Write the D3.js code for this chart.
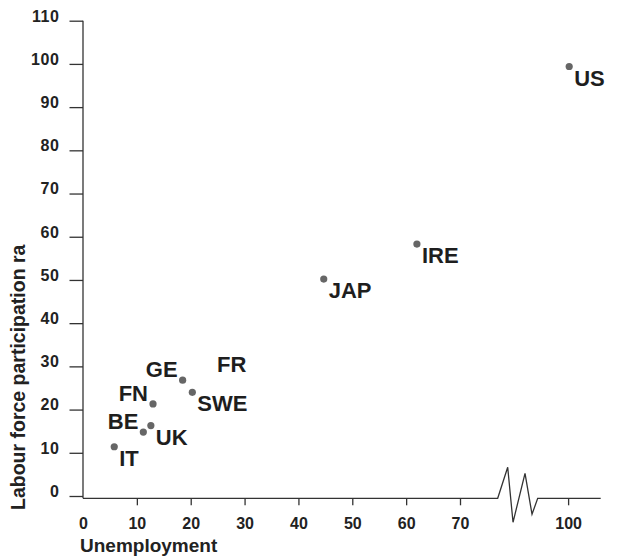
<!doctype html>
<html lang="en">

<head>
    <meta charset="UTF-8" />
    <script src="https://d3js.org/d3.v7.min.js"></script>
    <title>Unemployment vs labour force participation</title>
    <style>
        body { margin: 0; background: #fff; }
        text { font-family: "Liberation Sans", Arial, sans-serif; }
    </style>
</head>

<body>
    <div id="chart"></div>
    <script>
        // Data
        const countries = ["US", "IRE", "JAP", "GE", "SWE", "FN", "UK", "BE", "IT"]
        const unemployment = [100.2, 62.0, 44.7, 18.5, 20.3, 13.0, 12.6, 11.2, 5.8]
        const participation = [99.4, 58.3, 50.2, 26.8, 24.0, 21.3, 16.3, 14.8, 11.4]
        // label side for each point: "r" = below right, "l" = above left
        const labelSide = ["r", "r", "r", "l", "r", "l", "r", "l", "r"]

        // FR is labelled but has no marker
        const extraLabel = { name: "FR", x: 24.9, y: 28.7 }

        const xTicks = [0, 10, 20, 30, 40, 50, 60, 70, 100]
        const yTicks = [0, 10, 20, 30, 40, 50, 60, 70, 80, 90, 100, 110]
        const breakFrom = 77
        const breakTo = 94.4

        const W = 618, H = 558

        // x scale with a broken section between 77 and 94.4
        const x = d3.scaleLinear()
            .domain([0, breakFrom, breakTo, 106])
            .range([83, 497.7, 537.7, 600.7])
        const y = d3.scaleLinear().domain([0, 110]).range([496, 20.7])
        const xAxisY = y(0) + 2.3

        const svg = d3.select("#chart").append("svg")
            .attr("width", W)
            .attr("height", H)

        const ink = "#333"

        // y axis
        const yAxis = svg.append("g")
            .attr("transform", "translate(83,0)")
            .call(d3.axisLeft(y).tickValues(yTicks).tickSize(13.5).tickPadding(10))
        yAxis.select(".domain").remove()
        yAxis.selectAll(".tick line").attr("stroke", ink).attr("stroke-width", 1.3)
        yAxis.selectAll(".tick text")
            .attr("dy", "0.02em")
            .attr("fill", "#222")
            .attr("font-size", "16px")
            .attr("font-weight", "bold")
            .attr("letter-spacing", "0.6px")
        svg.append("line")
            .attr("x1", 83).attr("x2", 83)
            .attr("y1", y(110)).attr("y2", xAxisY)
            .attr("stroke", ink).attr("stroke-width", 1.3)

        // x axis with zigzag break
        const xa = x(breakFrom), xb = x(breakTo)
        const zig = [[0, 0], [0.25, -31], [0.383, 24], [0.683, -25], [0.858, 16], [1, 0]]
        const axisPts = [[x(0), xAxisY]]
            .concat(zig.map(([f, dy]) => [xa + f * (xb - xa), xAxisY + dy]))
            .concat([[x(106), xAxisY]])
        svg.append("path")
            .attr("d", d3.line()(axisPts))
            .attr("fill", "none")
            .attr("stroke", ink)
            .attr("stroke-width", 1.3)
            .attr("stroke-linejoin", "miter")

        const xAxis = svg.append("g")
            .attr("transform", `translate(0,${xAxisY})`)
            .call(d3.axisBottom(x).tickValues(xTicks).tickSize(7).tickPadding(12))
        xAxis.select(".domain").remove()
        xAxis.selectAll(".tick line")
            .attr("stroke", ink).attr("stroke-width", 1.3)
            .attr("opacity", d => d === 0 ? 0 : 1)
        xAxis.selectAll(".tick text")
            .attr("fill", "#222")
            .attr("font-family", "'Liberation Sans Narrow', 'Arial Narrow', sans-serif")
            .attr("font-size", "16px")
            .attr("font-weight", "bold")

        // axis titles
        svg.append("text")
            .attr("x", 80)
            .attr("y", 552)
            .attr("fill", "#222")
            .attr("font-size", "19px")
            .attr("font-weight", "bold")
            .text("Unemployment")

        svg.append("text")
            .attr("transform", "translate(25,510) rotate(-90)")
            .attr("fill", "#222")
            .attr("font-size", "19.5px")
            .attr("font-weight", "bold")
            .text("Labour force participation ra")

        // points
        const pts = countries.map((c, i) => ({
            name: c, x: unemployment[i], y: participation[i], side: labelSide[i]
        }))

        svg.selectAll("circle.pt")
            .data(pts)
            .enter()
            .append("circle")
            .attr("class", "pt")
            .attr("cx", d => x(d.x))
            .attr("cy", d => y(d.y))
            .attr("r", 3.6)
            .attr("fill", "#666")

        svg.selectAll("text.lbl")
            .data(pts)
            .enter()
            .append("text")
            .attr("class", "lbl")
            .attr("x", d => x(d.x) + (d.side === "r" ? 5 : -5))
            .attr("y", d => y(d.y) + (d.side === "r" ? 19 : -3))
            .attr("text-anchor", d => d.side === "r" ? "start" : "end")
            .attr("fill", "#1e1e1e")
            .attr("font-size", "22px")
            .attr("font-weight", "bold")
            .text(d => d.name)

        svg.append("text")
            .attr("x", x(extraLabel.x))
            .attr("y", y(extraLabel.y))
            .attr("fill", "#1e1e1e")
            .attr("font-size", "22px")
            .attr("font-weight", "bold")
            .text(extraLabel.name)
    </script>
</body>

</html>
